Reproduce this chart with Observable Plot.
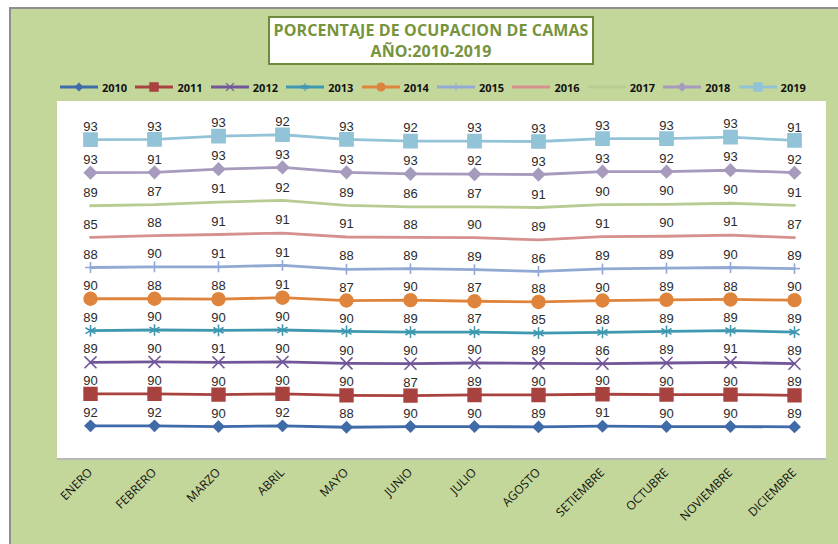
<!DOCTYPE html>
<html><head><meta charset="utf-8">
<script src="https://cdn.jsdelivr.net/npm/d3@7"></script>
<script src="https://cdn.jsdelivr.net/npm/@observablehq/plot@0.6"></script>
<style>
body{margin:0;background:#fff;}
#wrap{position:relative;width:838px;height:544px;overflow:hidden;font-family:"Open Sans",sans-serif;}
#panel{position:absolute;left:9px;top:7px;right:0;bottom:0;background:#c4d79b;border-left:2px solid #8e8e8e;border-top:2px solid #8e8e8e;}
#plotbg{position:absolute;left:57px;top:101px;width:769px;height:357px;background:#fff;border-bottom:2px solid #b8b8b8;}
#title{position:absolute;left:268px;top:16px;width:322px;height:43px;border:2px solid #6f8a3c;background:#fff;color:#77933c;font-weight:700;text-align:center;font-size:16px;line-height:21px;padding-top:2px;box-sizing:content-box;letter-spacing:0.1px;}
.leg{position:absolute;top:79px;height:16px;display:flex;align-items:center;font-size:11px;font-weight:700;color:#111;}
.leg svg{margin-right:4px;}
#chart{position:absolute;left:0;top:0;}
</style></head>
<body>
<div id="wrap">
  <div id="panel"></div>
  <div id="plotbg"></div>
  <div id="title">PORCENTAJE DE OCUPACION DE CAMAS<br>AÑO:2010-2019</div>
  <div id="legend"></div>
  <div id="chart"></div>
</div>
<script>
const months = ["ENERO","FEBRERO","MARZO","ABRIL","MAYO","JUNIO","JULIO","AGOSTO","SETIEMBRE","OCTUBRE","NOVIEMBRE","DICIEMBRE"];
const years = ["2010","2011","2012","2013","2014","2015","2016","2017","2018","2019"];
const v2010 = [92,92,90,92,88,90,90,89,91,90,90,89];
const v2011 = [90,90,90,90,90,87,89,90,90,90,90,89];
const v2012 = [89,90,91,90,90,90,90,89,86,89,91,89];
const v2013 = [89,90,90,90,90,89,87,85,88,89,89,89];
const v2014 = [90,88,88,91,87,90,87,88,90,89,88,90];
const v2015 = [88,90,91,91,88,89,89,86,89,89,90,89];
const v2016 = [85,88,91,91,91,88,90,89,91,90,91,87];
const v2017 = [89,87,91,92,89,86,87,91,90,90,90,91];
const v2018 = [93,91,93,93,93,93,92,93,93,92,93,92];
const v2019 = [93,93,93,92,93,92,93,93,93,93,93,91];
const series = [v2010,v2011,v2012,v2013,v2014,v2015,v2016,v2017,v2018,v2019];

// styles
const colors = ["#3f6ba8","#a8423f","#72569a","#3f98b0","#df843c","#92a9d3","#d6918f","#b7cc92","#a69abd","#92c3d6"];
const symbols = ["diamond2","square","times","asterisk","circle","plus","circle","circle","diamond2","square"];
const markerR = {"2010":4.8,"2011":7.2,"2012":5.5,"2013":5.5,"2014":6.4,"2015":3.6,"2016":0,"2017":0,"2018":5.4,"2019":7.4};
const legendR = {"2010":3.2,"2011":4.6,"2012":3.6,"2013":3.6,"2014":3.9,"2015":2.6,"2016":0,"2017":0,"2018":3.4,"2019":4.6};
const data = years.flatMap((yr,i) => months.map((m,j) => ({year: yr, month: m, value: series[i][j]})));

const chart = Plot.plot({
  width: 838, height: 544,
  marginLeft: 57, marginRight: 12, marginTop: 103, marginBottom: 86,
  style: {background: "transparent", overflow: "visible"},
  x: {type: "point", domain: months, padding: 0.5, label: null},
  y: {domain: [0, 1000], axis: null},
  color: {domain: years, range: colors},
  symbol: {domain: years, range: symbols},
  r: {type: "identity"},
  marks: [
    Plot.axisX({tickRotate: -45, tickSize: 0, tickPadding: 12, fontSize: 12, fill: "#111", fontFamily: "Open Sans", label: null}),
    Plot.lineY(data, Plot.stackY2({x: "month", y: "value", z: "year", stroke: "year", strokeWidth: 2.8})),
    Plot.dot(data, Plot.stackY2({x: "month", y: "value", z: "year", symbol: "year", fill: "year", stroke: "year", strokeWidth: 1.6, r: d => markerR[d.year]})),
    Plot.text(data, Plot.stackY2({x: "month", y: "value", z: "year", text: "value", dy: -13, fontSize: 13, fill: "#2a2a2a", fontFamily: "Liberation Sans"}))
  ]
});
document.getElementById("chart").appendChild(chart);

// legend
const leg = document.getElementById("legend");
const symMap = {diamond2: d3.symbolDiamond2, square: d3.symbolSquare, times: d3.symbolTimes, asterisk: d3.symbolAsterisk, circle: d3.symbolCircle, plus: d3.symbolPlus};
years.forEach((yr, i) => {
  const div = document.createElement("div");
  div.className = "leg";
  div.style.left = (60 + i * 75.4) + "px";
  const r = legendR[yr];
  let sym = "";
  if (r > 0) {
    const path = d3.symbol(symMap[symbols[i]], Math.PI * r * r)();
    sym = `<path d="${path}" transform="translate(19,5)" fill="${colors[i]}" stroke="${colors[i]}" stroke-width="1.3"/>`;
  }
  div.innerHTML = `<svg width="38" height="10"><line x1="0" x2="38" y1="5" y2="5" stroke="${colors[i]}" stroke-width="3"/>${sym}</svg><span>${yr}</span>`;
  leg.appendChild(div);
});
</script>
</body></html>
